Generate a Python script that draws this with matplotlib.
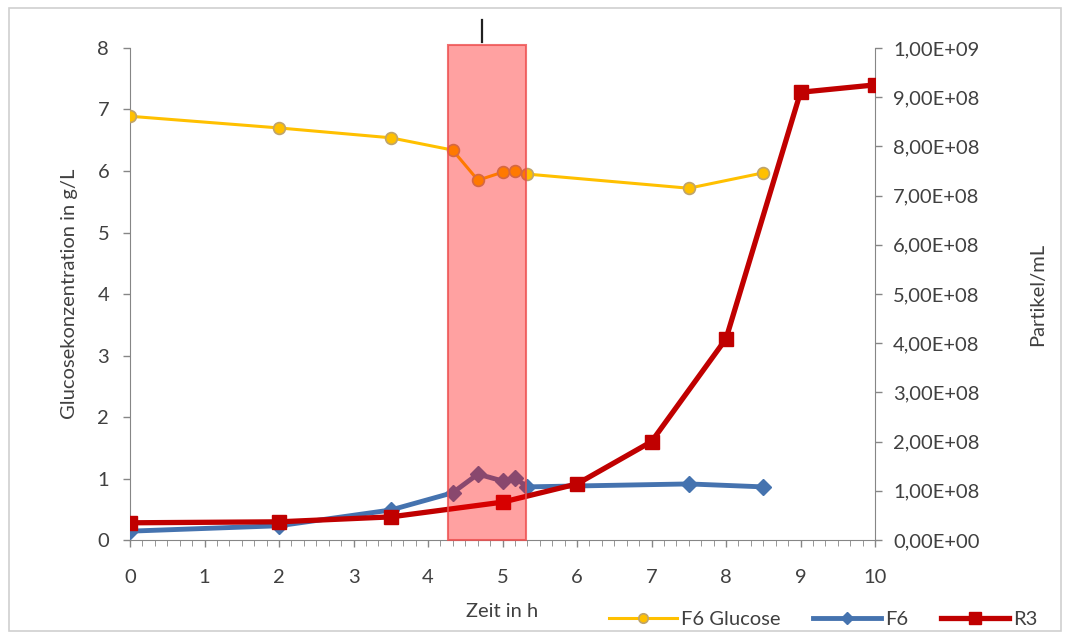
import numpy as np
import matplotlib
matplotlib.use("Agg")
import matplotlib.pyplot as plt
from matplotlib.patches import Rectangle
from matplotlib.ticker import MultipleLocator, FuncFormatter

plt.rcParams["font.family"] = ["Lato", "DejaVu Sans"]

# F6 Glucose (g/L, left axis)
glc_t = [0, 2, 3.5, 4.33, 4.67, 5.0, 5.17, 5.33, 7.5, 8.5]
glc_v = [6.89, 6.70, 6.54, 6.34, 5.85, 5.98, 6.00, 5.95, 5.72, 5.97]

# F6 particles (right axis)
f6_t = [0, 2, 3.5, 4.33, 4.67, 5.0, 5.17, 5.33, 7.5, 8.5]
f6_v = [1.8e7, 2.9e7, 6.1e7, 9.6e7, 1.34e8, 1.20e8, 1.26e8, 1.08e8, 1.14e8, 1.08e8]

# R3 particles (right axis)
r3_t = [0, 2, 3.5, 5, 6, 7, 8, 9, 10]
r3_v = [3.5e7, 3.7e7, 4.7e7, 7.7e7, 1.14e8, 2.0e8, 4.09e8, 9.1e8, 9.25e8]

span_t = (4.27, 5.32)  # markierter Zeitbereich
mark_t = 4.72          # Strichmarke über dem Bereich

TXT = "#404040"
SPINE = "#868686"
FS = 14.5

fig = plt.figure(figsize=(10.65, 6.39), dpi=100)
fig.patches.append(Rectangle((0.008, 0.012), 0.988, 0.976, transform=fig.transFigure,
                             fill=False, edgecolor="#d0d0d0", lw=1.2))
ax = fig.add_axes([0.1221, 0.1549, 0.6995, 0.770])
ax2 = ax.twinx()

l_glc, = ax.plot(glc_t, glc_v, color="#FFC000", lw=2.2, marker="o", ms=8.5,
                 mfc="#FFC000", mec="#BFA46A", mew=1.2, label="F6 Glucose", zorder=3)
l_f6, = ax2.plot(f6_t, f6_v, color="#4573AF", lw=3.5, marker="D", ms=8,
                 mfc="#4573AF", mec="#4573AF", label="F6", zorder=2)
l_r3, = ax2.plot(r3_t, r3_v, color="#C00000", lw=3.8, marker="s", ms=10,
                 mfc="#C00000", mec="#C00000", label="R3", zorder=3)

ax.set_xlim(0, 10)
ax.set_ylim(0, 8)
ax2.set_ylim(0, 1e9)

# markierter Bereich, liegt über allen Kurven
ax2.add_patch(Rectangle((span_t[0], 0), span_t[1] - span_t[0], 1.006e9,
                        facecolor=(1, 0, 0, 0.37), edgecolor=(0.93, 0.3, 0.3, 0.8),
                        lw=1.5, zorder=10, clip_on=False))
ax2.plot([mark_t, mark_t], [1.012e9, 1.057e9], color="#202020", lw=1.6, clip_on=False)

ax.xaxis.set_major_locator(MultipleLocator(1))
ax.xaxis.set_minor_locator(MultipleLocator(1 / 6))
ax.yaxis.set_major_locator(MultipleLocator(1))
ax2.yaxis.set_major_locator(MultipleLocator(1e8))
ax2.yaxis.set_major_formatter(FuncFormatter(
    lambda v, p: ("%.2E" % v).replace(".", ",")))

for a in (ax, ax2):
    for s in a.spines.values():
        s.set_visible(False)
    a.tick_params(colors=SPINE, labelcolor=TXT, labelsize=FS, length=5, width=1)
ax.spines["left"].set_visible(True)
ax.spines["bottom"].set_visible(True)
ax2.spines["right"].set_visible(True)
for s in (ax.spines["left"], ax.spines["bottom"], ax2.spines["right"]):
    s.set_color(SPINE)
ax.tick_params(axis="x", which="minor", length=4, color=SPINE)
ax.tick_params(axis="x", pad=16)
ax.tick_params(axis="y", pad=10)
ax2.tick_params(axis="y", pad=8)

ax.set_xlabel("Zeit in h", fontsize=FS, color=TXT, labelpad=12)
ax.set_ylabel("Glucosekonzentration in g/L", fontsize=FS, color=TXT, labelpad=14)
ax2.set_ylabel("Partikel/mL", fontsize=FS, color=TXT, labelpad=36)

handles = [l_glc, l_f6, l_r3]
fig.legend(handles, [h.get_label() for h in handles], loc="center", ncol=3,
           bbox_to_anchor=(0.773, 0.03), frameon=False, fontsize=FS,
           handlelength=3.4, handletextpad=0.2, columnspacing=1.6,
           labelcolor=TXT, markerscale=0.8)

fig.savefig("out.png", dpi=100)
